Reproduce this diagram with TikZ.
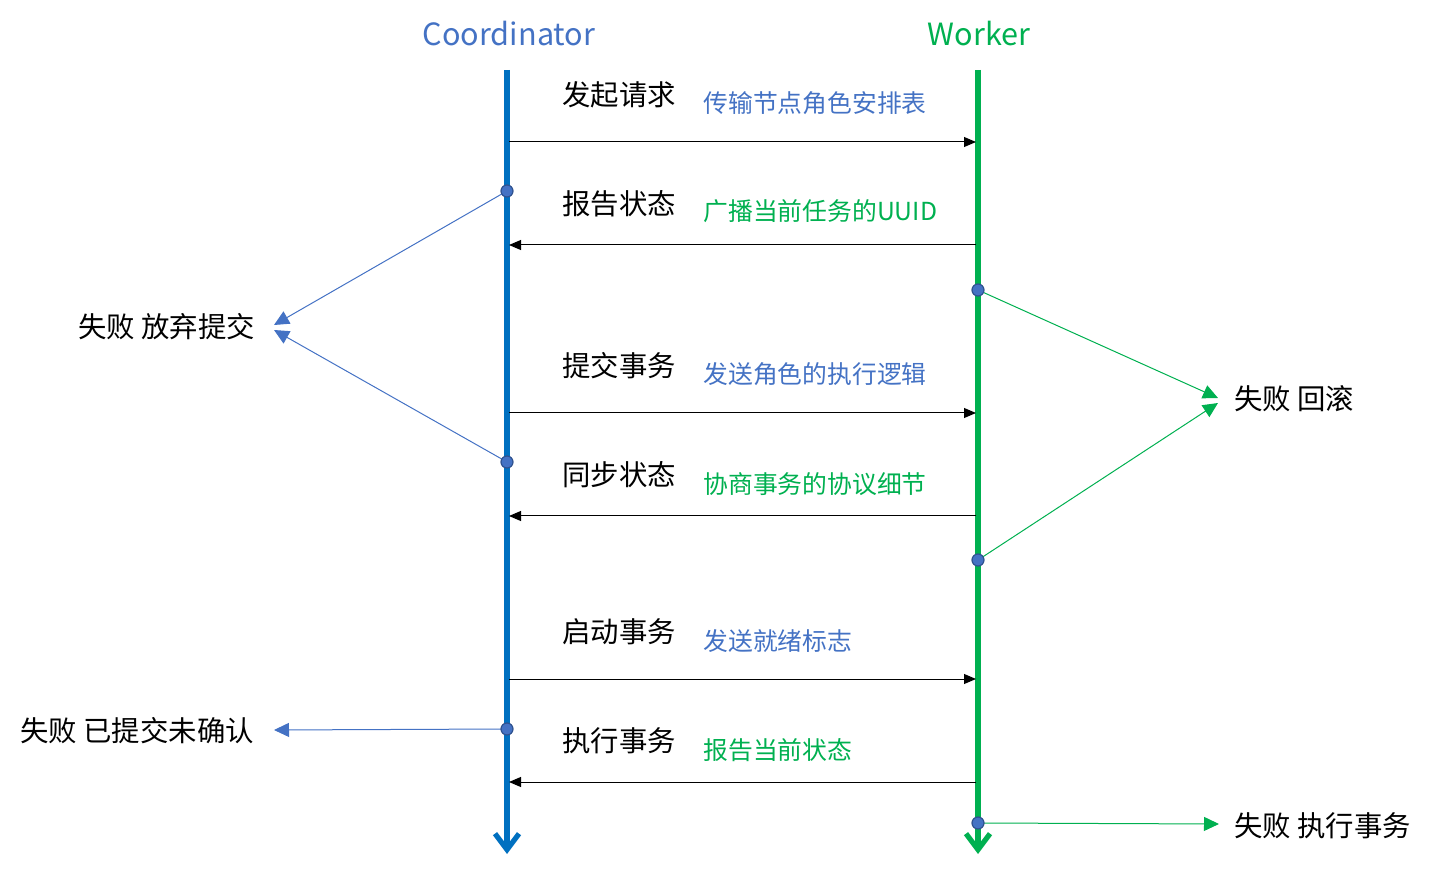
\documentclass[tikz,border=0pt]{standalone}
\usepackage{fontspec}
\setmainfont{Noto Sans CJK SC}
\usetikzlibrary{arrows.meta}
\definecolor{cline}{HTML}{0070C0}
\definecolor{cgreen}{HTML}{00B050}
\definecolor{ctext}{HTML}{4472C4}
\definecolor{cdotb}{HTML}{2F528F}
\begin{document}
\begin{tikzpicture}[x=0.5pt,y=-0.5pt,
  life/.style={line width=2.6pt,-{Straight Barb[length=8pt,width=12pt,line width=2.6pt]}},
  msg/.style={draw=black,line width=0.5pt,-{Triangle[length=6pt,width=5pt]}},
  failb/.style={draw=ctext,line width=0.5pt,-{Triangle[length=7.5pt,width=7pt]}},
  failg/.style={draw=cgreen,line width=0.5pt,-{Triangle[length=7.5pt,width=7pt]}},
  dot/.style={circle,fill=ctext,draw=cdotb,line width=0.6pt,inner sep=0pt,minimum size=6pt},
  title/.style={font=\fontsize{15.3pt}{17pt}\selectfont},
  lab/.style={anchor=west,inner sep=0pt,font=\fontsize{14.2pt}{16pt}\selectfont,text height=0.85em,text depth=0.15em},
  note/.style={anchor=west,inner sep=0pt,font=\fontsize{12.4pt}{14pt}\selectfont,text height=0.85em,text depth=0.15em},
]
\useasboundingbox (0,0) rectangle (1432,877);
% titles
\node[title,text=ctext] (tc) at (509,34) {Coordinator};
\node[title,text=cgreen] (tw) at (979,34) {Worker};
% lifelines
\coordinate (ctop) at (507,70); \coordinate (cbot) at (507,854);
\coordinate (wtop) at (978,70); \coordinate (wbot) at (978,854);
\draw[life,draw=cline] (ctop) -- (cbot);
\draw[life,draw=cgreen] (wtop) -- (wbot);
% message coordinates
\foreach \n/\y in {1/142,2/245,3/413,4/516,5/679,6/782}{
  \coordinate (cl\n) at (509,\y);
  \coordinate (wl\n) at (976,\y);
}
\draw[msg] (cl1) -- (wl1);
\draw[msg] (wl2) -- (cl2);
\draw[msg] (cl3) -- (wl3);
\draw[msg] (wl4) -- (cl4);
\draw[msg] (cl5) -- (wl5);
\draw[msg] (wl6) -- (cl6);
% labels
\node[lab] (l1) at (562,99) {发起请求};
\node[lab] (l2) at (562,208) {报告状态};
\node[lab] (l3) at (562,370) {提交事务};
\node[lab] (l4) at (562,479) {同步状态};
\node[lab] (l5) at (562,636) {启动事务};
\node[lab] (l6) at (562,744) {执行事务};
\node[note,text=ctext] (n1) at (703,106) {传输节点角色安排表};
\node[note,text=cgreen] (n2) at (703,214) {广播当前任务的UUID};
\node[note,text=ctext] (n3) at (703,377) {发送角色的执行逻辑};
\node[note,text=cgreen] (n4) at (703,487) {协商事务的协议细节};
\node[note,text=ctext] (n5) at (703,644) {发送就绪标志};
\node[note,text=cgreen] (n6) at (703,752) {报告当前状态};
% failure targets
\coordinate (fa1) at (274,325);
\coordinate (fa2) at (274,330);
\coordinate (fg1) at (1218,398);
\coordinate (fg2) at (1218,403);
\coordinate (fa3) at (274,730);
\coordinate (fg3) at (1219,824);
\node[lab] (f1) at (78,331) {失败 放弃提交};
\node[lab] (f2) at (1234,403) {失败 回滚};
\node[lab] (f3) at (20,734) {失败 已提交未确认};
\node[lab] (f4) at (1234,829) {失败 执行事务};
% failure lines
\draw[failb] (507,191) -- (fa1);
\draw[failb] (507,462) -- (fa2);
\draw[failb] (507,729) -- (fa3);
\draw[failg] (978,290) -- (fg1);
\draw[failg] (978,560) -- (fg2);
\draw[failg] (978,823) -- (fg3);
% dots
\node[dot] (d1) at (507,191) {};
\node[dot] (d2) at (507,462) {};
\node[dot] (d3) at (507,729) {};
\node[dot] (d4) at (978,290) {};
\node[dot] (d5) at (978,560) {};
\node[dot] (d6) at (978,823) {};
\end{tikzpicture}
\end{document}
